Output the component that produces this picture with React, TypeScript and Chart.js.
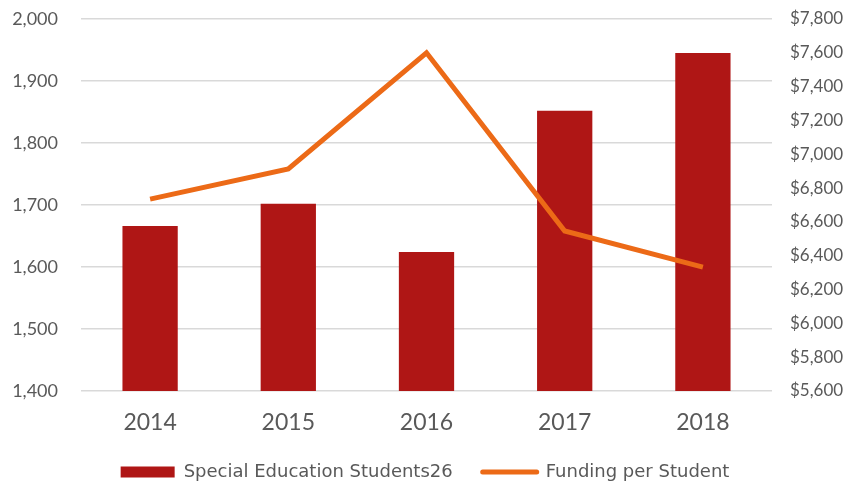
import React, { useEffect, useRef } from "react";
import { Chart, registerables } from "chart.js";

Chart.register(...registerables);

const years = ["2014", "2015", "2016", "2017", "2018"];
const specialEdStudents = [1666, 1702, 1624, 1852, 1945];
const fundingPerStudent = [6735, 6913, 7600, 6546, 6333];
const barLabel = "Special Education Students26";
const lineLabel = "Funding per Student";

const FONT = "Lato, 'Noto Sans', sans-serif";
const LEGEND_FAMILY = "'DejaVu Sans', sans-serif";
const TEXT = "#595959";
const BAR = "#AF1615";
const LINE = "#EC6A17";
const GRID = "#D9D9D9";

const LEGEND_PAD = 30;
const LEGEND_FONT = 18;
const LEGEND_CENTER_Y = 472;
const LEGEND_RESERVED = 20;

const legendPlacer = {
  id: "legendPlacer",
  afterInit(chart: any) {
    const lg = chart.legend;
    if (!lg) return;
    const orig = lg.fit.bind(lg);
    lg.fit = function () {
      orig();
      this.height = LEGEND_RESERVED;
    };
  },
  afterLayout(chart: any) {
    const lg = chart.legend;
    if (!lg) return;
    const top = LEGEND_CENTER_Y - LEGEND_PAD - LEGEND_FONT / 2;
    lg.top = top;
    lg.bottom = chart.height;
    lg.height = chart.height - top;
  },
};

export default function App() {
  const ref = useRef<HTMLCanvasElement | null>(null);

  useEffect(() => {
    if (!ref.current) return;
    const chart = new Chart(ref.current, {
      data: {
        labels: years,
        datasets: [
          {
            type: "bar",
            label: barLabel,
            data: specialEdStudents,
            backgroundColor: BAR,
            borderWidth: 0,
            yAxisID: "y",
            order: 2,
            barPercentage: 0.4,
            categoryPercentage: 1,
          },
          {
            type: "line",
            label: lineLabel,
            data: fundingPerStudent,
            borderColor: LINE,
            backgroundColor: LINE,
            borderWidth: 5,
            pointRadius: 0,
            tension: 0,
            borderJoinStyle: "miter",
            borderCapStyle: "butt",
            yAxisID: "y1",
            order: 1,
          },
        ],
      } as any,
      options: {
        animation: false,
        responsive: true,
        maintainAspectRatio: false,
        layout: { padding: { top: 19, left: 0, right: 0, bottom: 0 } },
        plugins: {
          tooltip: { enabled: false },
          legend: {
            position: "bottom",
            labels: {
              font: { family: LEGEND_FAMILY, size: LEGEND_FONT },
              color: TEXT,
              padding: LEGEND_PAD,
              boxHeight: 11,
              usePointStyle: true,
              pointStyleWidth: 54,
              generateLabels: () => [
                {
                  text: barLabel,
                  fillStyle: BAR,
                  strokeStyle: BAR,
                  lineWidth: 0,
                  pointStyle: "rect",
                  datasetIndex: 0,
                  fontColor: TEXT,
                } as any,
                {
                  text: lineLabel,
                  fillStyle: LINE,
                  strokeStyle: LINE,
                  lineWidth: 5,
                  lineCap: "round",
                  pointStyle: "line",
                  datasetIndex: 1,
                  fontColor: TEXT,
                } as any,
              ],
            },
          },
        },
        scales: {
          x: {
            grid: { display: false, drawTicks: false },
            border: { display: false },
            ticks: { font: { family: FONT, size: 23 }, color: TEXT, padding: 18 },
            afterFit: (s: any) => {
              s.height = 483 - LEGEND_RESERVED - 391;
            },
          },
          y: {
            position: "left",
            min: 1400,
            max: 2000,
            ticks: {
              stepSize: 100,
              font: { family: FONT, size: 18 },
              color: TEXT,
              padding: 23,
              callback: (v: any) => Number(v).toLocaleString("en-US"),
            },
            grid: { color: GRID, lineWidth: 1.5, drawTicks: false },
            border: { display: false },
            afterFit: (s: any) => {
              s.width = 81;
              s.paddingTop = 0;
              s.paddingBottom = 0;
            },
          },
          y1: {
            position: "right",
            min: 5600,
            max: 7800,
            ticks: {
              stepSize: 200,
              font: { family: FONT, size: 17 },
              color: TEXT,
              padding: 18,
              callback: (v: any) => "$" + Number(v).toLocaleString("en-US"),
            },
            grid: { drawOnChartArea: false, drawTicks: false },
            border: { display: false },
            afterFit: (s: any) => {
              s.width = 78;
              s.paddingTop = 0;
              s.paddingBottom = 0;
            },
          },
        },
      } as any,
      plugins: [legendPlacer],
    });
    return () => chart.destroy();
  }, []);

  return (
    <div style={{ position: "fixed", left: 0, top: 0, width: 850, height: 483, background: "#fff" }}>
      <canvas ref={ref} />
    </div>
  );
}
